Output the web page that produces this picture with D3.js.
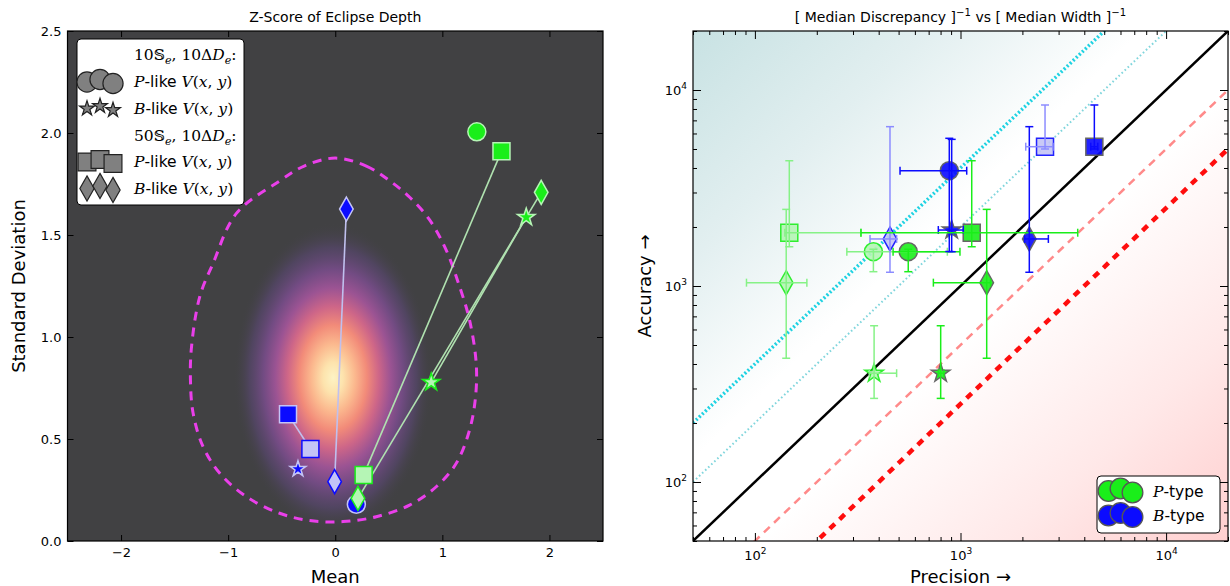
<!DOCTYPE html>
<html>
<head>
<meta charset="utf-8">
<script src="https://cdn.jsdelivr.net/npm/d3@7"></script>
<style>
body { margin: 0; background: #fff; }
svg text { font-family: "DejaVu Sans", sans-serif; }
</style>
</head>
<body>
<svg id="chart" width="1230" height="586"></svg>
<script>
//data below
const meanTicks = [-2, -1, 0, 1, 2];
const stdTicks = [0, 0.5, 1, 1.5, 2, 2.5];
const powTicks = [100, 1000, 10000];

// dashed contour round the z-score cloud (mean, std)
const contourMean = [0, 0.29, 0.51, 0.695, 0.881, 1.036, 1.161, 1.254, 1.316, 1.31, 1.254, 1.13, 0.943, 0.694, 0.383, 0.072, -0.239, -0.519, -0.829, -1.078, -1.234, -1.327, -1.352, -1.342, -1.265, -1.141, -0.923, -0.519, -0.29];
const contourStd = [1.877, 1.838, 1.765, 1.685, 1.574, 1.426, 1.247, 1.083, 0.871, 0.707, 0.544, 0.381, 0.266, 0.176, 0.119, 0.095, 0.1, 0.136, 0.217, 0.332, 0.462, 0.626, 0.789, 0.952, 1.198, 1.361, 1.606, 1.765, 1.838];
const heatCenter = [-0.02, 0.8];
const heatSpread = [0.93, 0.76];

// left panel markers
const zShape = ["diamond", "diamond", "square", "square", "star", "circle", "diamond", "square", "star", "diamond", "star", "circle", "square"];
const zType  = ["B", "B", "B", "B", "B", "B", "P", "P", "P", "P", "P", "P", "P"];
const zShade = ["dark", "light", "dark", "light", "dark", "dark", "light", "light", "light", "dark", "dark", "dark", "dark"];
const zMean  = [0.104, -0.006, -0.441, -0.232, -0.348, 0.197, 0.212, 0.265, 0.896, 1.923, 1.783, 1.322, 1.552];
const zStd   = [1.627, 0.291, 0.621, 0.451, 0.353, 0.180, 0.209, 0.324, 0.778, 1.709, 1.587, 2.006, 1.910];
const zLinks = [[1, 0], [3, 2], [7, 12], [6, 9], [8, 10]];

// right panel markers
const mShape = ["square", "diamond", "circle", "circle", "diamond", "circle", "star", "square", "diamond", "diamond", "square", "square", "star", "star"];
const mType  = ["P", "P", "P", "P", "B", "B", "B", "P", "P", "B", "B", "B", "P", "P"];
const mShade = ["light", "light", "light", "dark", "light", "dark", "dark", "dark", "dark", "dark", "light", "dark", "light", "dark"];
const precision = [147, 142, 377, 557, 454, 882, 906, 1134, 1341, 2161, 2577, 4477, 380, 801];
const precLo    = [140, 91, 280, 470, 363, 508, 780, 328, 738, 2050, 2076, 4300, 360, 780];
const precHi    = [328, 179, 863, 994, 489, 1072, 1032, 3716, 1400, 2675, 2818, 4650, 489, 830];
const accuracy  = [1870, 1040, 1496, 1496, 1738, 3875, 1930, 1870, 1040, 1738, 5137, 5137, 359, 359];
const accLo     = [1586, 428, 1183, 1183, 1175, 1500, 1496, 1586, 428, 1175, 5000, 5000, 267, 267];
const accHi     = [4357, 2460, 1540, 1540, 6500, 5670, 5600, 4357, 2460, 6500, 8385, 8385, 627, 627];

const refRatios = [4, 2, 1, 0.5, 0.25];   // accuracy = ratio * precision
const legendShapes = ["circle", "star", "square", "diamond"];
const typeNames = ["P", "B"];

//styles
const col = {P: "#1aee1a", B: "#0b0bff"};
const pale = {P: "#b5f5b5", B: "#c4c4f6"};
const barPale = {P: "#86f286", B: "#8c8cff"};
const linkCol = {P: "#b0e2b0", B: "#c0c0ee"};
const refColor = ["#1ed2e2", "#7fd5dc", "#000", "#ff8a8a", "#ff0d0d"];
const refWidth = [3.5, 2, 2.5, 2.5, 4.5];
const refDash = ["2,2.2", "1.6,2.6", null, "8,6", "7,6.5"];

const svg = d3.select("#chart");
const defs = svg.append("defs");

const L = {x0: 67.5, x1: 603, y0: 31, y1: 541};
const R = {x0: 693, x1: 1228, y0: 31, y1: 541};

const xL = d3.scaleLinear().domain([-2.5, 2.5]).range([L.x0, L.x1]);
const yL = d3.scaleLinear().domain([0, 2.5]).range([L.y1, L.y0]);
const xR = d3.scaleLog().domain([50, 2e4]).range([R.x0, R.x1]);
const yR = d3.scaleLog().domain([50, 2e4]).range([R.y1, R.y0]);

function markerPath(shape, k) {
  if (shape === "circle") return d3.symbol(d3.symbolCircle, Math.PI * 81 * k * k)();
  if (shape === "square") return d3.symbol(d3.symbolSquare, 289 * k * k)();
  if (shape === "star") return d3.symbol(d3.symbolStar, 95 * k * k)();
  const w = 6.8 * k, h = 12 * k;
  return "M0," + (-h) + "L" + w + ",0L0," + h + "L" + (-w) + ",0Z";
}

// text with italic-serif math parts, sub/superscripts
function richText(sel, parts) {
  let shift = 0;
  parts.forEach(function(p) {
    const ts = sel.append("tspan").text(p.t);
    const target = p.sub ? 4 : (p.sup ? -6 : 0);
    if (target !== shift) { ts.attr("dy", target - shift); shift = target; }
    if (p.m) ts.attr("font-family", "DejaVu Serif").attr("font-style", "italic");
    if (p.r) ts.attr("font-family", "DejaVu Serif");
    if (p.sub || p.sup) ts.attr("font-size", "0.72em");
  });
}

// ================= left panel =================
const gL = svg.append("g");
gL.append("rect").attr("x", L.x0).attr("y", L.y0)
  .attr("width", L.x1 - L.x0).attr("height", L.y1 - L.y0).attr("fill", "#414143");

const heat = defs.append("radialGradient").attr("id", "heat");
[[0, "#fdf3c4", 1], [0.1, "#fde3ad", 1], [0.22, "#fbb88e", 1], [0.34, "#f28b79", 1],
 [0.46, "#d2678a", 0.97], [0.58, "#a3559a", 0.92], [0.7, "#7b4d8e", 0.85], [0.84, "#594770", 0.65], [1, "#414143", 0]]
  .forEach(function(s) {
    heat.append("stop").attr("offset", s[0]).attr("stop-color", s[1]).attr("stop-opacity", s[2]);
  });
gL.append("ellipse")
  .attr("cx", xL(heatCenter[0])).attr("cy", yL(heatCenter[1]))
  .attr("rx", xL(heatSpread[0]) - xL(0)).attr("ry", yL(0) - yL(heatSpread[1]))
  .attr("fill", "url(#heat)");

const contourLine = d3.line()
  .x(function(d, i) { return xL(contourMean[i]); })
  .y(function(d, i) { return yL(contourStd[i]); })
  .curve(d3.curveCatmullRomClosed);
gL.append("path").attr("d", contourLine(contourMean))
  .attr("fill", "none").attr("stroke", "#ea3fea").attr("stroke-width", 3)
  .attr("stroke-dasharray", "9,7");

gL.selectAll(".link").data(zLinks).enter().append("line")
  .attr("x1", function(d) { return xL(zMean[d[0]]); })
  .attr("y1", function(d) { return yL(zStd[d[0]]); })
  .attr("x2", function(d) { return xL(zMean[d[1]]); })
  .attr("y2", function(d) { return yL(zStd[d[1]]); })
  .attr("stroke", function(d) { return linkCol[zType[d[0]]]; })
  .attr("stroke-width", 1.6);

gL.selectAll(".zm").data(d3.range(zMean.length)).enter().append("path")
  .attr("transform", function(i) { return "translate(" + xL(zMean[i]) + "," + yL(zStd[i]) + ")"; })
  .attr("d", function(i) { return markerPath(zShape[i], zShape[i] === "star" && zType[i] === "B" ? 0.9 : 1); })
  .attr("fill", function(i) { return zShade[i] === "dark" ? col[zType[i]] : pale[zType[i]]; })
  .attr("stroke", function(i) { return zShade[i] === "dark" ? pale[zType[i]] : col[zType[i]]; })
  .attr("stroke-width", 1.5);

// left axes
function styleAxis(g) {
  g.select(".domain").remove();
  g.selectAll("text").attr("font-size", 13).attr("font-family", "DejaVu Sans").attr("fill", "#000");
}
gL.append("g").attr("transform", "translate(0," + L.y1 + ")")
  .call(d3.axisBottom(xL).tickValues(meanTicks).tickSize(-6).tickPadding(7).tickFormat(d3.format("d"))).call(styleAxis);
gL.append("g").attr("transform", "translate(0," + L.y0 + ")")
  .call(d3.axisTop(xL).tickValues(meanTicks).tickSize(-6).tickFormat("")).call(styleAxis);
gL.append("g").attr("transform", "translate(" + L.x0 + ",0)")
  .call(d3.axisLeft(yL).tickValues(stdTicks).tickSize(-6).tickPadding(6).tickFormat(d3.format(".1f"))).call(styleAxis);
gL.append("g").attr("transform", "translate(" + L.x1 + ",0)")
  .call(d3.axisRight(yL).tickValues(stdTicks).tickSize(-6).tickFormat("")).call(styleAxis);
gL.append("rect").attr("x", L.x0).attr("y", L.y0)
  .attr("width", L.x1 - L.x0).attr("height", L.y1 - L.y0)
  .attr("fill", "none").attr("stroke", "#000").attr("stroke-width", 1.2);

gL.append("text").attr("x", (L.x0 + L.x1) / 2).attr("y", 22).attr("text-anchor", "middle")
  .attr("font-size", 14).text("Z-Score of Eclipse Depth");
gL.append("text").attr("x", (L.x0 + L.x1) / 2).attr("y", 583).attr("text-anchor", "middle")
  .attr("font-size", 18).text("Mean");
gL.append("text").attr("transform", "translate(25," + (L.y0 + L.y1) / 2 + ") rotate(-90)")
  .attr("text-anchor", "middle").attr("font-size", 18).text("Standard Deviation");

// left legend
const lg = gL.append("g");
lg.append("rect").attr("x", 77).attr("y", 39).attr("width", 167).attr("height", 166).attr("rx", 4)
  .attr("fill", "#fff").attr("stroke", "#000").attr("stroke-width", 1);
const headParts = function(n) {
  return [{t: n + "\ud835\udd4a", r: true}, {t: "e", m: true, sub: true}, {t: ", 10\u0394", r: true},
          {t: "D", m: true}, {t: "e", m: true, sub: true}, {t: ":", r: true}];
};
const likeParts = function(letter) {
  return [{t: letter, m: true}, {t: "-like "}, {t: "V", m: true}, {t: "(", r: true},
          {t: "x", m: true}, {t: ", ", r: true}, {t: "y", m: true}, {t: ")", r: true}];
};
const rowY = [55, 82, 108.5, 135.5, 162, 188.5];
const rowParts = [headParts(10), likeParts("P"), likeParts("B"), headParts(50), likeParts("P"), likeParts("B")];
rowParts.forEach(function(parts, i) {
  const t = lg.append("text").attr("x", 134).attr("y", rowY[i] + 5).attr("font-size", 15.5);
  richText(t, parts);
});
const legendRows = [1, 2, 4, 5];
const yOffsets = [0, -2.5, 1.5];
legendShapes.forEach(function(shape, s) {
  [87, 100, 113].forEach(function(x, j) {
    lg.append("path")
      .attr("transform", "translate(" + x + "," + (rowY[legendRows[s]] + yOffsets[j]) + ")")
      .attr("d", markerPath(shape, shape === "circle" ? 1.12 : (shape === "star" ? 0.85 : 1.05)))
      .attr("fill", "#808080").attr("stroke", "#222").attr("stroke-width", 1.2);
  });
});

// ================= right panel =================
const gR = svg.append("g");
defs.append("clipPath").attr("id", "clipR").append("rect")
  .attr("x", R.x0).attr("y", R.y0).attr("width", R.x1 - R.x0).attr("height", R.y1 - R.y0);
const bg = defs.append("linearGradient").attr("id", "bgR").attr("gradientUnits", "userSpaceOnUse")
  .attr("x1", 706).attr("y1", 19).attr("x2", 1215).attr("y2", 553);
[[0, "rgb(200,226,227)"], [0.22, "rgb(226,239,240)"], [0.42, "#fff"], [0.56, "#fff"],
 [0.8, "rgb(255,232,232)"], [1, "rgb(255,207,207)"]].forEach(function(s) {
  bg.append("stop").attr("offset", s[0]).attr("stop-color", s[1]);
});
gR.append("rect").attr("x", R.x0).attr("y", R.y0)
  .attr("width", R.x1 - R.x0).attr("height", R.y1 - R.y0).attr("fill", "url(#bgR)");

const plotR = gR.append("g").attr("clip-path", "url(#clipR)");
refRatios.forEach(function(r, i) {
  plotR.append("line")
    .attr("x1", xR(50)).attr("y1", yR(50 * r))
    .attr("x2", xR(2e4)).attr("y2", yR(2e4 * r))
    .attr("stroke", refColor[i]).attr("stroke-width", refWidth[i])
    .attr("stroke-dasharray", refDash[i]);
});

const idx = d3.range(precision.length);
function barColor(i) { return mShade[i] === "dark" ? col[mType[i]] : barPale[mType[i]]; }

idx.forEach(function(i) {
  plotR.append("path")
    .attr("transform", "translate(" + xR(precision[i]) + "," + yR(accuracy[i]) + ")")
    .attr("d", markerPath(mShape[i], mShape[i] === "star" ? 1.05 : 1))
    .attr("fill", mShade[i] === "dark" ? col[mType[i]] : pale[mType[i]])
    .attr("stroke", mShade[i] === "dark" ? "#555" : col[mType[i]])
    .attr("stroke-width", 1.5)
    .attr("opacity", 0.9);
});
idx.forEach(function(i) {
  const g = plotR.append("g").attr("stroke", barColor(i)).attr("stroke-width", 1.5).attr("fill", "none");
  const x = xR(precision[i]), y = yR(accuracy[i]);
  const xa = xR(precLo[i]), xb = xR(precHi[i]), ya = yR(accLo[i]), yb = yR(accHi[i]);
  g.append("line").attr("x1", xa).attr("x2", xb).attr("y1", y).attr("y2", y);
  g.append("line").attr("x1", x).attr("x2", x).attr("y1", ya).attr("y2", yb);
  [xa, xb].forEach(function(c) { g.append("line").attr("x1", c).attr("x2", c).attr("y1", y - 4).attr("y2", y + 4); });
  [ya, yb].forEach(function(c) { g.append("line").attr("y1", c).attr("y2", c).attr("x1", x - 4).attr("x2", x + 4); });
});

// right axes
const minorX = xR.ticks().filter(function(v) { return powTicks.indexOf(v) < 0; });
function powLabels(g) {
  g.selectAll(".tick text").each(function(d) {
    const t = d3.select(this);
    t.text("10");
    t.append("tspan").attr("dy", -6).attr("font-size", 9).text(Math.round(Math.log10(d)));
  });
}
gR.append("g").attr("transform", "translate(0," + R.y1 + ")")
  .call(d3.axisBottom(xR).tickValues(powTicks).tickSize(-8).tickPadding(10)).call(styleAxis).call(powLabels);
gR.append("g").attr("transform", "translate(0," + R.y1 + ")")
  .call(d3.axisBottom(xR).tickValues(minorX).tickSize(-4).tickFormat("")).call(styleAxis);
gR.append("g").attr("transform", "translate(0," + R.y0 + ")")
  .call(d3.axisTop(xR).tickValues(powTicks).tickSize(-8).tickFormat("")).call(styleAxis);
gR.append("g").attr("transform", "translate(0," + R.y0 + ")")
  .call(d3.axisTop(xR).tickValues(minorX).tickSize(-4).tickFormat("")).call(styleAxis);
gR.append("g").attr("transform", "translate(" + R.x0 + ",0)")
  .call(d3.axisLeft(yR).tickValues(powTicks).tickSize(-8).tickPadding(6)).call(styleAxis).call(powLabels);
gR.append("g").attr("transform", "translate(" + R.x0 + ",0)")
  .call(d3.axisLeft(yR).tickValues(minorX).tickSize(-4).tickFormat("")).call(styleAxis);
gR.append("g").attr("transform", "translate(" + R.x1 + ",0)")
  .call(d3.axisRight(yR).tickValues(powTicks).tickSize(-8).tickFormat("")).call(styleAxis);
gR.append("g").attr("transform", "translate(" + R.x1 + ",0)")
  .call(d3.axisRight(yR).tickValues(minorX).tickSize(-4).tickFormat("")).call(styleAxis);
gR.append("rect").attr("x", R.x0).attr("y", R.y0)
  .attr("width", R.x1 - R.x0).attr("height", R.y1 - R.y0)
  .attr("fill", "none").attr("stroke", "#000").attr("stroke-width", 1.2);

const titleR = gR.append("text").attr("x", (R.x0 + R.x1) / 2).attr("y", 22)
  .attr("text-anchor", "middle").attr("font-size", 14);
richText(titleR, [{t: "[ Median Discrepancy ]"}, {t: "\u22121", sup: true}, {t: " vs [ Median Width ]"}, {t: "\u22121", sup: true}]);
gR.append("text").attr("x", (R.x0 + R.x1) / 2).attr("y", 583).attr("text-anchor", "middle")
  .attr("font-size", 18).text("Precision \u2192");
gR.append("text").attr("transform", "translate(651," + (R.y0 + R.y1) / 2 + ") rotate(-90)")
  .attr("text-anchor", "middle").attr("font-size", 18).text("Accuracy \u2192");

// right legend
const rg = gR.append("g");
rg.append("rect").attr("x", 1097).attr("y", 476).attr("width", 123).attr("height", 57).attr("rx", 4)
  .attr("fill", "#fff").attr("stroke", "#000").attr("stroke-width", 1);
typeNames.forEach(function(tn, k) {
  const y = 491 + k * 24.5;
  [1108.5, 1120.5, 1132.5].forEach(function(x, j) {
    rg.append("path").attr("transform", "translate(" + x + "," + (y + yOffsets[j]) + ")")
      .attr("d", markerPath("circle", 1.15))
      .attr("fill", col[tn]).attr("stroke", "#555").attr("stroke-width", 1.3);
  });
  const t = rg.append("text").attr("x", 1153).attr("y", y + 5.5).attr("font-size", 15.5);
  richText(t, [{t: tn, m: true}, {t: "-type"}]);
});
</script>
</body>
</html>
